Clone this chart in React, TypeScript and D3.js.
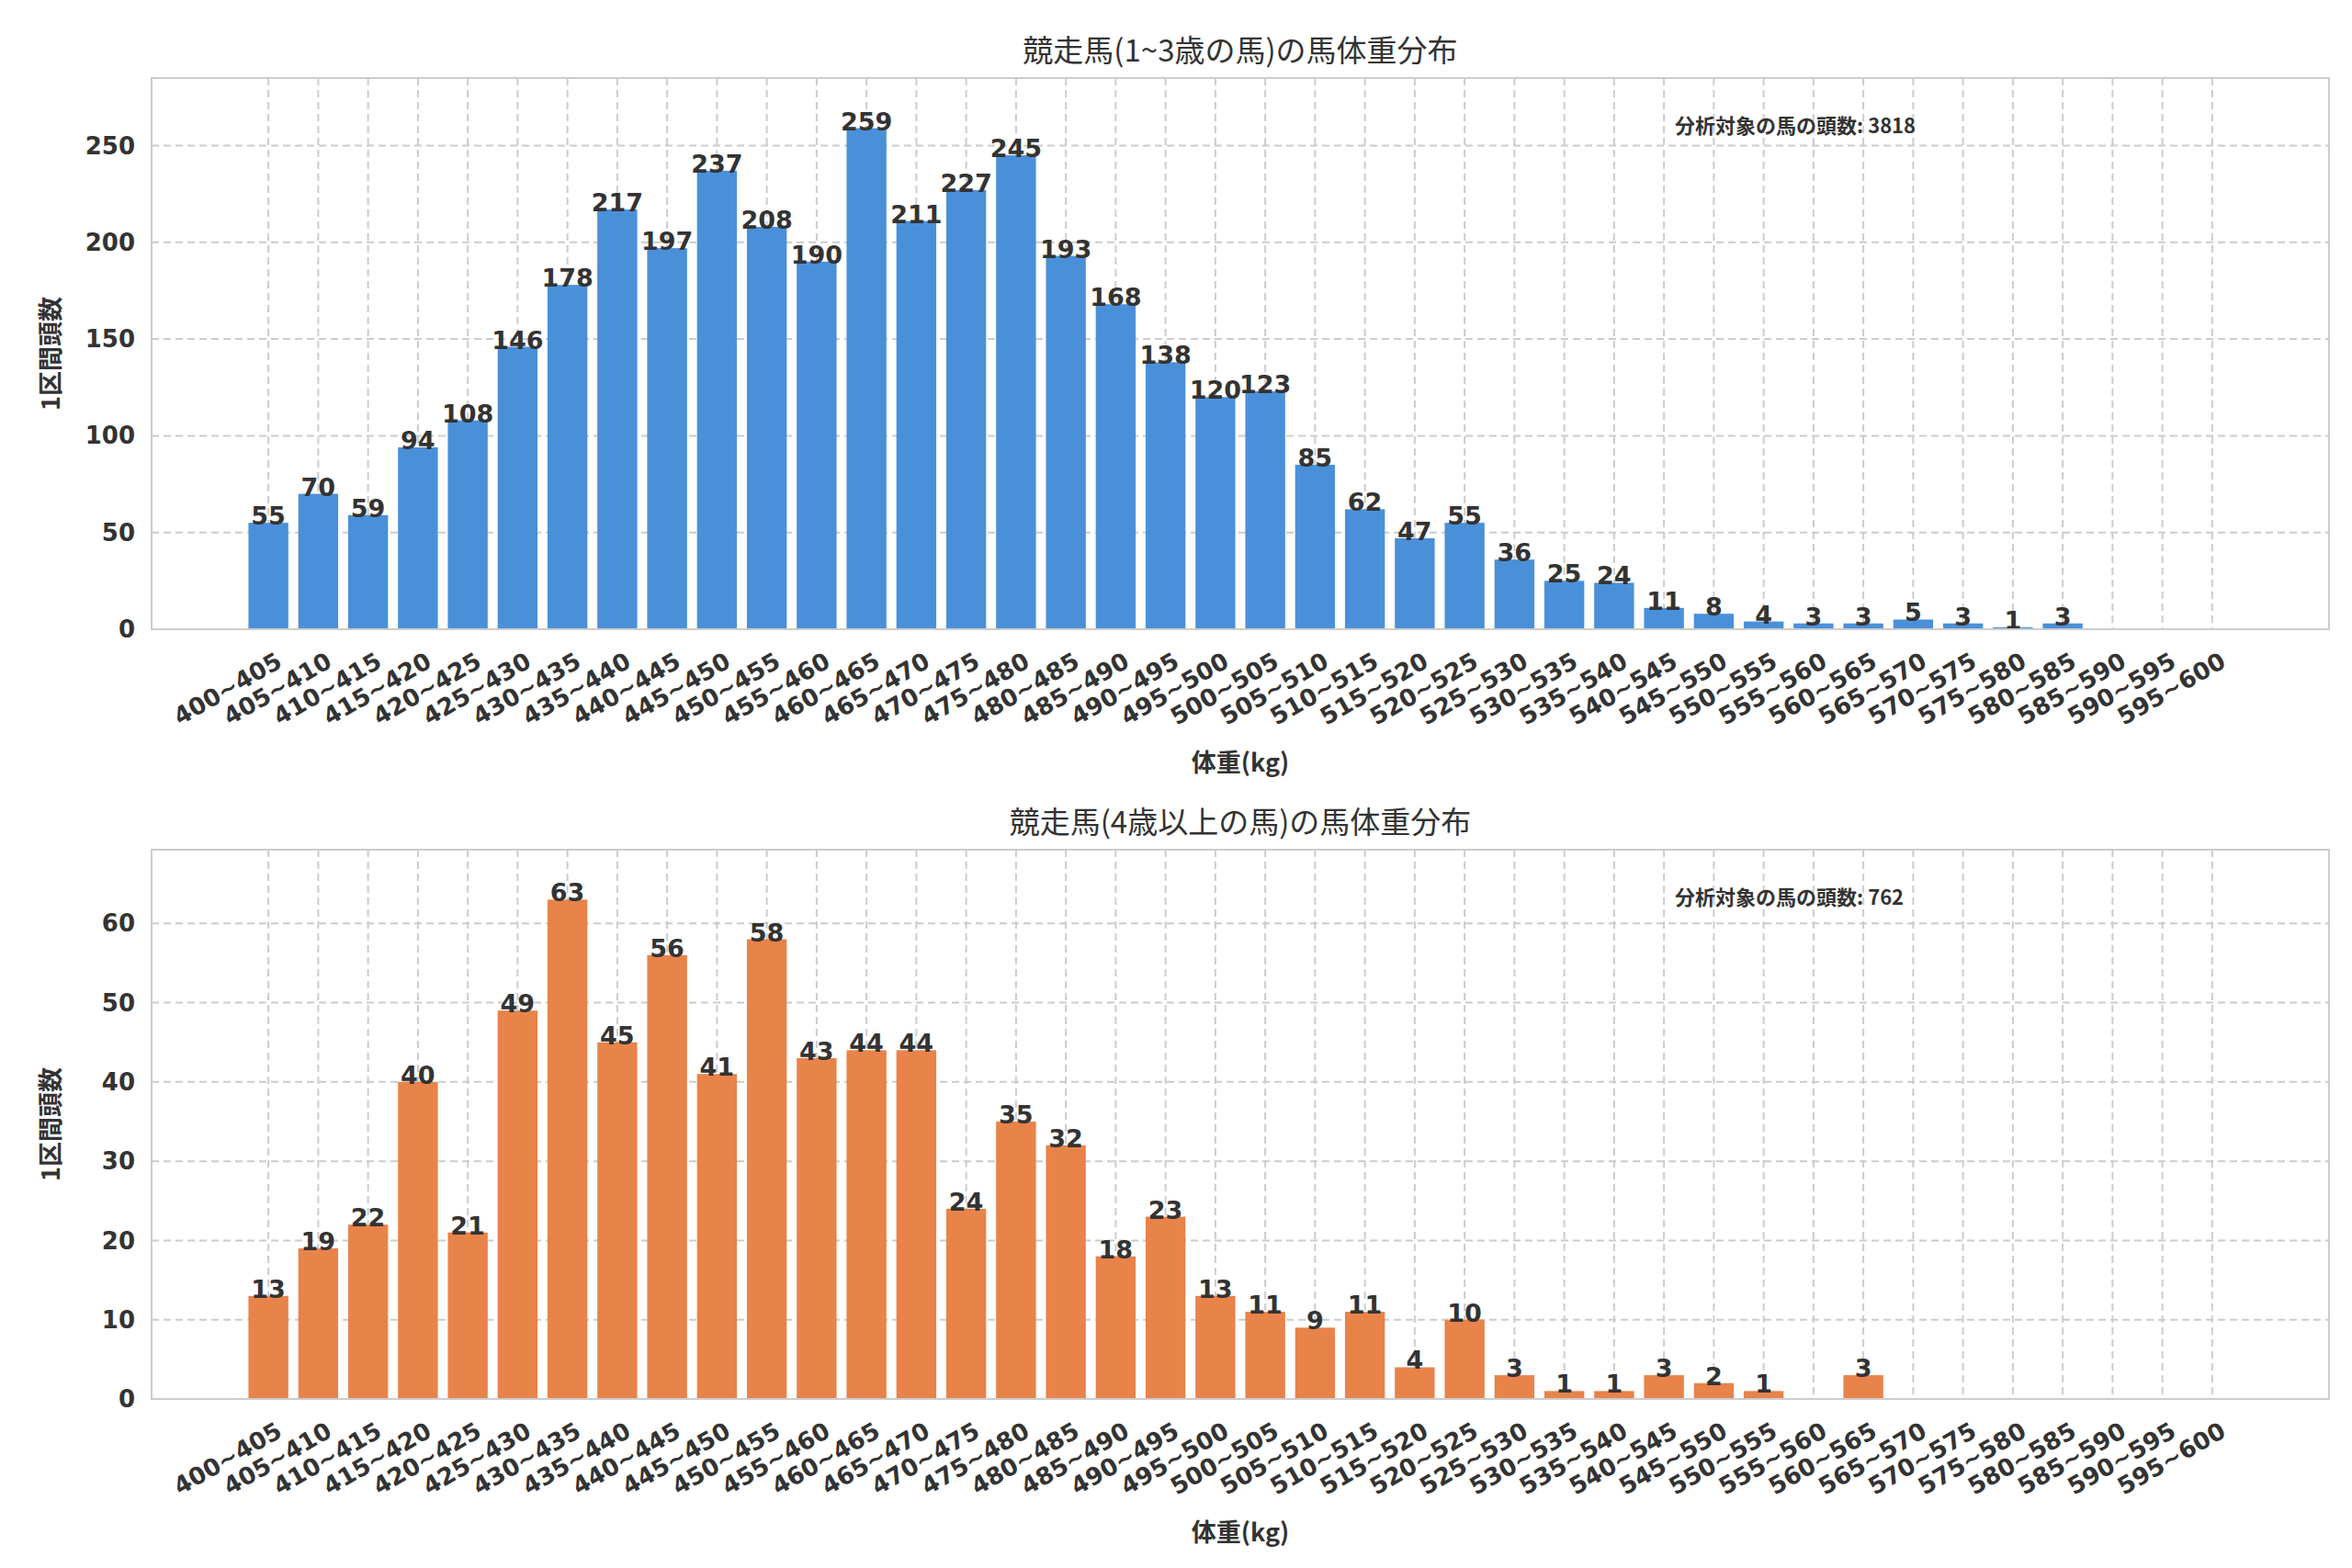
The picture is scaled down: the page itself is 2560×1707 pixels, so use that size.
import React from 'react';
import * as d3 from 'd3';

const categories = d3.range(40).map((i) => `${400 + i * 5}~${405 + i * 5}`);
const youngCounts = [55, 70, 59, 94, 108, 146, 178, 217, 197, 237, 208, 190, 259, 211, 227, 245, 193, 168, 138, 120, 123, 85, 62, 47, 55, 36, 25, 24, 11, 8, 4, 3, 3, 5, 3, 1, 3, 0, 0, 0];
const olderCounts = [13, 19, 22, 40, 21, 49, 63, 45, 56, 41, 58, 43, 44, 44, 24, 35, 32, 18, 23, 13, 11, 9, 11, 4, 10, 3, 1, 1, 3, 2, 1, 0, 3, 0, 0, 0, 0, 0, 0, 0];
const panels = [
  { title: '競走馬(1~3歳の馬)の馬体重分布', values: youngCounts, color: '#4a90d9', total: 3818, ticks: [0, 50, 100, 150, 200, 250], top: 77, bottom: 677 },
  { title: '競走馬(4歳以上の馬)の馬体重分布', values: olderCounts, color: '#e8834a', total: 762, ticks: [0, 10, 20, 30, 40, 50, 60], top: 917, bottom: 1515 },
];

const W = 2560;
const H = 1707;
const left = 157;
const right = 2527;
const font = '"DejaVu Sans", "Noto Sans CJK JP", sans-serif';
const jfont = '"Noto Sans CJK JP", "DejaVu Sans", sans-serif';

const Panel: React.FC<{ p: (typeof panels)[number] }> = ({ p }) => {
  const x = d3.scaleBand().domain(categories).range([left + 100, right - 100]).paddingInner(0.2).paddingOuter(0.1);
  const y = d3.scaleLinear().domain([0, (d3.max(p.values) || 1) * 1.1]).range([p.bottom, p.top]);
  return (
    <g>
      <rect x={left} y={p.top} width={right - left} height={p.bottom - p.top} fill="#fff" />
      {categories.map((c) => (
        <line key={c} x1={x(c)! + x.bandwidth() / 2} x2={x(c)! + x.bandwidth() / 2} y1={p.top} y2={p.bottom} stroke="#cccccc" strokeWidth={2} strokeDasharray="8,5" />
      ))}
      {p.ticks.map((t) => (
        <g key={t}>
          <line x1={left} x2={right} y1={y(t)} y2={y(t)} stroke="#cccccc" strokeWidth={2} strokeDasharray="8,5" />
          <text x={left - 18} y={y(t)} dy="0.35em" textAnchor="end" fontSize={26} fontWeight="bold" fill="#333">{t}</text>
        </g>
      ))}
      {p.values.map((v, i) => (
        <g key={i}>
          <rect x={x(categories[i])} y={y(v)} width={x.bandwidth()} height={p.bottom - y(v)} fill={p.color} />
          {v > 0 && (
            <text x={x(categories[i])! + x.bandwidth() / 2} y={y(v) + 2} textAnchor="middle" fontSize={27} fontWeight="bold" fill="#333">{v}</text>
          )}
        </g>
      ))}
      <rect x={left} y={p.top} width={right - left} height={p.bottom - p.top} fill="none" stroke="#cccccc" strokeWidth={2} />
      {categories.map((c) => {
        const cx = x(c)! + x.bandwidth() / 2 + 12;
        const cy = p.bottom + 32;
        return (
          <text key={c} x={cx} y={cy} transform={`rotate(-30 ${cx} ${cy})`} textAnchor="end" dy="0.35em" fontSize={26} fontWeight="bold" fill="#333">{c}</text>
        );
      })}
      <text x={(left + right) / 2} y={p.top - 18} textAnchor="middle" fontSize={33} fill="#333" fontFamily={jfont}>{p.title}</text>
      <text x={(left + right) / 2} y={p.bottom + 155} textAnchor="middle" fontSize={27} fontWeight="bold" fill="#333" fontFamily={jfont}>体重(kg)</text>
      <text transform={`translate(${left - 100},${(p.top + p.bottom) / 2}) rotate(-90)`} textAnchor="middle" fontSize={27} fontWeight="bold" fill="#333" fontFamily={jfont}>1区間頭数</text>
      <text x={1815} y={p.top + 60} fontSize={22} fontWeight="bold" fill="#333" fontFamily={jfont}>分析対象の馬の頭数: {p.total}</text>
    </g>
  );
};

export default function App() {
  return (
    <svg width={W} height={H} style={{ display: 'block', fontFamily: font, background: '#fff' }}>
      <rect width={W} height={H} fill="#fff" />
      {panels.map((p) => <Panel key={p.title} p={p} />)}
    </svg>
  );
}
